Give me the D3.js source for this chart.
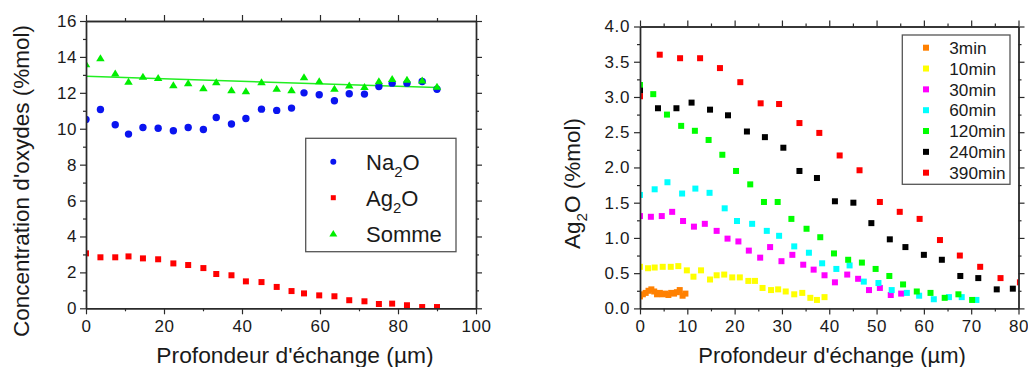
<!DOCTYPE html>
<html><head><meta charset="utf-8">
<script src="https://cdn.jsdelivr.net/npm/d3@7"></script>
<style>
body{margin:0;background:#fff;}
text{font-family:"Liberation Sans",Arial,sans-serif;fill:#1a1a1a;}
</style></head><body>
<script>
// ---------- Left chart data ----------
const leftX = [0,3.7,7.5,10.9,14.6,18.5,22.4,26.2,30.1,33.4,37.3,41,45,48.9,52.7,55.9,59.8,63.7,67.5,71.4,75.1,78.5,82.3,86.2,90];
const na2o = [10.52,11.07,10.22,9.7,10.07,10.03,9.89,10.07,9.96,10.63,10.26,10.57,11.09,11.02,11.15,12.0,11.89,11.56,11.95,11.93,12.35,12.54,12.54,12.63,12.2];
const ag2oLeft = [3.06,2.84,2.84,2.89,2.78,2.73,2.5,2.41,2.24,1.91,1.84,1.5,1.46,1.19,0.96,0.83,0.72,0.67,0.45,0.39,0.24,0.26,0.17,0.07,0.07];
const somme = [13.62,13.95,13.1,12.65,12.93,12.86,12.45,12.56,12.28,12.61,12.17,12.11,12.61,12.26,12.17,12.9,12.67,12.26,12.43,12.35,12.67,12.8,12.76,12.72,12.37];
const fitX = [0,90];
const fitY = [12.92,12.29];
const leftLegend = ["Na2O","Ag2O","Somme"];
const leftXTicks = [0,20,40,60,80,100];
const leftYTicks = [0,2,4,6,8,10,12,14,16];

// ---------- Right chart data ----------
const seriesNames = ["3min","10min","30min","60min","120min","240min","390min"];
const t3x = [0,0.6,1.2,1.8,2.4,3.0,3.6,4.2,4.8,5.4,6.0,6.6,7.2,7.8,8.4,9.0,9.6];
const t3y = [0.17,0.2,0.22,0.25,0.27,0.24,0.2,0.22,0.2,0.21,0.19,0.22,0.21,0.23,0.26,0.18,0.21];
const t10x = [0,1.7,3.1,4.8,6.5,8.1,9.9,11.3,12.9,14.8,16.2,17.8,19.5,21.1,22.9,24.3,25.9,27.7,29.2,30.8,32.6,34.3,36,37.4,39];
const t10y = [0.59,0.57,0.58,0.59,0.59,0.6,0.54,0.45,0.54,0.41,0.47,0.48,0.44,0.44,0.39,0.39,0.29,0.26,0.27,0.24,0.2,0.22,0.15,0.12,0.16];
const t30x = [0,2.3,4.6,6.8,9.1,11.4,13.7,16.2,18.5,20.8,23,25.4,27.5,29.9,32.2,34.5,36.7,39,41.2,43.8,46.1,48.4,50.7,53,55.2];
const t30y = [1.31,1.3,1.31,1.37,1.24,1.16,1.2,1.1,0.99,0.95,0.82,0.72,0.87,0.67,0.76,0.62,0.55,0.47,0.37,0.48,0.42,0.26,0.29,0.19,0.21];
const t60x = [0,3.1,5.8,8.9,11.7,14.7,17.9,20.5,23.7,26.8,29.4,32.6,35.7,38.5,41.5,44.3,47.3,50.4,53.2,56.4,59,62.1,65.3,68,71.1];
const t60y = [1.61,1.69,1.79,1.63,1.7,1.64,1.42,1.24,1.2,1.1,1.03,0.88,0.79,0.64,0.56,0.61,0.38,0.36,0.26,0.22,0.18,0.13,0.16,0.16,0.12];
const t120x = [0,2.8,5.7,8.7,11.6,14.5,17.4,20.3,23.3,26.2,29.1,32,35.2,38.1,41,44,46.9,49.8,52.7,55.6,58.5,61.4,64.4,67.3,70.2];
const t120y = [3.17,3.04,2.75,2.59,2.52,2.39,2.18,1.95,1.76,1.51,1.51,1.27,1.13,1.01,0.78,0.69,0.65,0.56,0.46,0.34,0.24,0.22,0.15,0.2,0.12];
const t240x = [0,3.8,7.7,10.9,14.8,18.6,22.6,26.4,30.3,33.7,37.4,41.2,45.1,48.9,52.8,56.1,60,63.8,67.7,71.5,75.4,78.8];
const t240y = [3.09,2.84,2.84,2.92,2.82,2.74,2.51,2.43,2.28,1.95,1.85,1.52,1.5,1.21,0.98,0.87,0.76,0.69,0.46,0.43,0.27,0.28];
const t390x = [0,4.17,8.47,12.7,16.9,21.2,25.5,29.4,33.7,37.9,42.2,46.4,50.7,54.9,59.1,63.4,67.6,71.9,76.2,80.3];
const t390y = [3.01,3.6,3.55,3.55,3.41,3.21,2.91,2.9,2.63,2.49,2.17,1.96,1.51,1.37,1.27,0.97,0.75,0.59,0.43,0.37];
const rightXTicks = [0,10,20,30,40,50,60,70,80];
const rightYTicks = [0,0.5,1,1.5,2,2.5,3,3.5,4];

const rightColors = ["#ff8000","#ffff00","#ff00ff","#00ffff","#00ff00","#000000","#ff0000"];
const rightSeries = [[t3x,t3y],[t10x,t10y],[t30x,t30y],[t60x,t60y],[t120x,t120y],[t240x,t240y],[t390x,t390y]];

const svg = d3.select("body").append("svg").attr("width",1028).attr("height",367);
const AX = "#2a2a2a";

function frame(g, x, y, xMaj, xMin, yMaj, yMin, xFmt, yFmt, ypad){
  const [x0,x1] = x.range(), [y0,y1] = y.range(); // y0 bottom, y1 top
  const style = s => s.call(a=>a.select(".domain").attr("stroke",AX).attr("stroke-width",1.4))
      .call(a=>a.selectAll(".tick line").attr("stroke",AX).attr("stroke-width",1.2))
      .call(a=>a.selectAll("text").attr("font-size",17).attr("fill","#1a1a1a").attr("font-family","Liberation Sans, Arial, sans-serif").attr("letter-spacing","0.6px"));
  g.append("g").attr("transform",`translate(0,${y0})`).call(d3.axisBottom(x).tickValues(xMaj).tickSize(6).tickSizeOuter(0).tickPadding(6).tickFormat(xFmt)).call(style);
  g.append("g").attr("transform",`translate(0,${y0})`).call(d3.axisBottom(x).tickValues(xMin).tickSize(3).tickSizeOuter(0).tickFormat("")).call(style);
  g.append("g").attr("transform",`translate(0,${y1})`).call(d3.axisTop(x).tickValues(xMaj).tickSize(6).tickSizeOuter(0).tickFormat("")).call(style);
  g.append("g").attr("transform",`translate(0,${y1})`).call(d3.axisTop(x).tickValues(xMin).tickSize(3).tickSizeOuter(0).tickFormat("")).call(style);
  g.append("g").attr("transform",`translate(${x0},0)`).call(d3.axisLeft(y).tickValues(yMaj).tickSize(6).tickSizeOuter(0).tickPadding(ypad).tickFormat(yFmt)).call(style);
  g.append("g").attr("transform",`translate(${x0},0)`).call(d3.axisLeft(y).tickValues(yMin).tickSize(3).tickSizeOuter(0).tickFormat("")).call(style);
  g.append("g").attr("transform",`translate(${x1},0)`).call(d3.axisRight(y).tickValues(yMaj).tickSize(6).tickSizeOuter(0).tickFormat("")).call(style);
  g.append("g").attr("transform",`translate(${x1},0)`).call(d3.axisRight(y).tickValues(yMin).tickSize(3).tickSizeOuter(0).tickFormat("")).call(style);
}

function subText(parent, x, y, base, sub, rest, size, anchor, rotate){
  const t = parent.append("text").attr("font-size",size).attr("text-anchor",anchor||"start");
  if(rotate) t.attr("transform",`translate(${x},${y}) rotate(-90)`); else t.attr("x",x).attr("y",y);
  t.append("tspan").text(base);
  t.append("tspan").attr("font-size",size*0.68).attr("dy",size*0.3).text(sub);
  t.append("tspan").attr("dy",-size*0.3).text(rest);
  return t;
}

// ================= LEFT CHART =================
const L = svg.append("g");
const xL = d3.scaleLinear().domain([0,100]).range([86,476]);
const yL = d3.scaleLinear().domain([0,16]).range([308.3,21]);
svg.append("clipPath").attr("id","clipL").append("rect").attr("x",86).attr("y",21).attr("width",390).attr("height",287.3);
const pL = L.append("g").attr("clip-path","url(#clipL)");

pL.append("path").datum(fitX.map((d,i)=>[d,fitY[i]]))
  .attr("d",d3.line().x(d=>xL(d[0])).y(d=>yL(d[1]))).attr("stroke","#22ee22").attr("stroke-width",1.5).attr("fill","none");

const tri = (w,h)=>`M0,${-h/2}L${w/2},${h/2}L${-w/2},${h/2}Z`;
pL.selectAll(".na").data(leftX).join("circle").attr("cx",d=>xL(d)).attr("cy",(d,i)=>yL(na2o[i])).attr("r",3.7).attr("fill","#0a14f0");
pL.selectAll(".ag").data(leftX).join("rect").attr("x",d=>xL(d)-3).attr("y",(d,i)=>yL(ag2oLeft[i])-3).attr("width",6).attr("height",6).attr("fill","#ff0000");
pL.selectAll(".so").data(leftX).join("path").attr("d",tri(8.5,7)).attr("transform",(d,i)=>`translate(${xL(d)},${yL(somme[i])})`).attr("fill","#00ee00");

frame(L, xL, yL, leftXTicks, [10,30,50,70,90], leftYTicks, d3.range(1,16,2), d3.format("d"), d3.format("d"), 3);

// legend left
const lg = L.append("g");
lg.append("rect").attr("x",305.7).attr("y",138.3).attr("width",150.3).attr("height",113.4).attr("fill","#fff").attr("stroke","#555").attr("stroke-width",1.3);
const lgY = [161.7,197.7,233.3];
lg.append("circle").attr("cx",333.3).attr("cy",lgY[0]).attr("r",3).attr("fill","#0a14f0");
lg.append("rect").attr("x",330.8).attr("y",lgY[1]-2.5).attr("width",5).attr("height",5).attr("fill","#ff0000");
lg.append("path").attr("d",tri(8,6.5)).attr("transform",`translate(333.3,${lgY[2]})`).attr("fill","#00ee00");
subText(lg, 366, lgY[0]+8.3, leftLegend[0].slice(0,2), "2", "O", 22);
subText(lg, 366, lgY[1]+8.3, leftLegend[1].slice(0,2), "2", "O", 22);
lg.append("text").attr("x",366).attr("y",lgY[2]+8.3).attr("font-size",22).text(leftLegend[2]);

// titles left
L.append("text").attr("transform","translate(29,181) rotate(-90)").attr("text-anchor","middle").attr("font-size",22.5).text("Concentration d'oxydes (%mol)");
L.append("text").attr("x",295).attr("y",363).attr("text-anchor","middle").attr("font-size",22.8).text("Profondeur d'échange (µm)");

// ================= RIGHT CHART =================
const R = svg.append("g");
const xR = d3.scaleLinear().domain([0,80]).range([640,1018.5]);
const yR = d3.scaleLinear().domain([0,4]).range([308.4,26.5]);
svg.append("clipPath").attr("id","clipR").append("rect").attr("x",640).attr("y",26.5).attr("width",378.5).attr("height",281.9);
const pR = R.append("g").attr("clip-path","url(#clipR)");
rightSeries.forEach((s,k)=>{
  pR.append("g").selectAll("rect").data(s[0]).join("rect")
    .attr("x",d=>xR(d)-3).attr("y",(d,i)=>yR(s[1][i])-3).attr("width",6).attr("height",6).attr("fill",rightColors[k]);
});
frame(R, xR, yR, rightXTicks, d3.range(5,80,10), rightYTicks, d3.range(0.25,4,0.5), d3.format("d"), d3.format(".1f"), 4);

// legend right
const rg = R.append("g");
rg.append("rect").attr("x",902.3).attr("y",35).attr("width",107.7).attr("height",149.3).attr("fill","#fff").attr("stroke","#555").attr("stroke-width",1.3);
seriesNames.forEach((n,k)=>{
  const yy = 47.7 + k*20.83;
  rg.append("rect").attr("x",923).attr("y",yy-3).attr("width",6).attr("height",6).attr("fill",rightColors[k]);
  rg.append("text").attr("x",949.3).attr("y",yy+6.3).attr("font-size",17.2).text(n);
});

subText(R, 580, 183.5, "Ag", "2", "O (%mol)", 22.5, "middle", true);
R.append("text").attr("x",832).attr("y",363).attr("text-anchor","middle").attr("font-size",22).text("Profondeur d'échange (µm)");
</script>
</body></html>
